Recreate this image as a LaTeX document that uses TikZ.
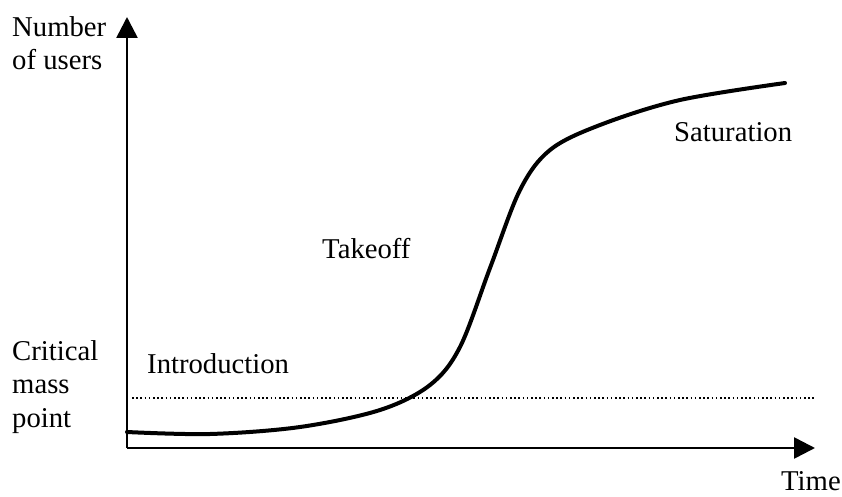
\documentclass[tikz,border=0pt]{standalone}
\usepackage{fontspec}
\setmainfont{Liberation Serif}
\usetikzlibrary{arrows.meta}
\begin{document}
\begin{tikzpicture}[x=1pt,y=-1pt,
  lbl/.style={inner sep=0pt,font=\fontsize{28.7}{33.5}\selectfont,align=left},
  axis/.style={line width=2.6pt,-{Triangle[length=21pt,width=21pt]}},
  curveline/.style={line width=4pt,line cap=round},
  critline/.style={line width=1.6pt,dash pattern=on 1.6pt off 2.6pt}]
\useasboundingbox (0,0) rectangle (842,497);
\coordinate (O) at (127,448);
\coordinate (ytop) at (127,17);
\coordinate (xend) at (815,448);
\coordinate (c0) at (132,398);
\coordinate (c1) at (815,398);
\draw[axis] (O) -- (ytop);
\draw[axis] (O) -- (xend);
\draw[critline] (c0) -- (c1);
\draw[curveline] plot[smooth,tension=0.55] coordinates {(127,432) (210,434) (300,427) (380,410) (430,385) (460,347) (490,268) (520,190) (550,150) (600,125) (680,100) (785,83)};
\node[lbl,anchor=base west] (ny) at (12,70) {Number\\of users};
\node[lbl,anchor=base west] (cm) at (12,427) {Critical\\mass\\point};
\node[lbl,anchor=base west] (intro) at (147,373) {Introduction};
\node[lbl,anchor=base west] (take) at (322,258) {Takeoff};
\node[lbl,anchor=base west] (sat) at (674,142) {Saturation};
\node[lbl,anchor=base west] (time) at (781,490) {Time};
\end{tikzpicture}
\end{document}
